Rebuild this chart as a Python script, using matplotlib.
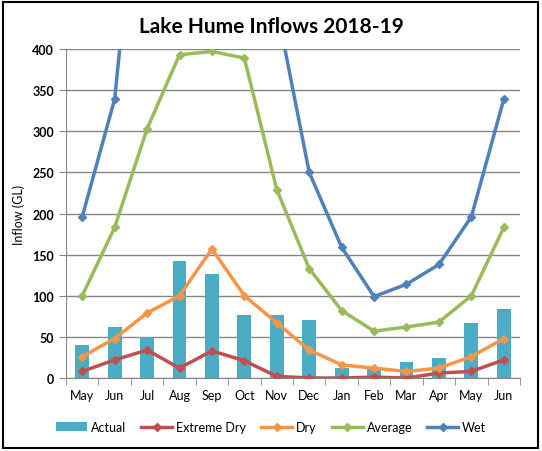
import matplotlib
matplotlib.use("Agg")
import matplotlib.pyplot as plt
import numpy as np

# dados
meses = ['May', 'Jun', 'Jul', 'Aug', 'Sep', 'Oct', 'Nov', 'Dec', 'Jan', 'Feb', 'Mar', 'Apr', 'May', 'Jun']
actual = [40, 62, 50, 142, 127, 77, 77, 71, 12, 12, 20, 24, 67, 84]
extreme_dry = [8, 22, 34, 12, 33, 21, 2, 0, 0, 1, 0, 6, 8, 22]
dry = [26, 48, 79, 100, 157, 100, 67, 34, 16, 12, 8, 12, 26, 48]
average = [100, 183, 303, 393, 397, 389, 229, 133, 82, 57, 62, 68, 100, 183]
wet = [196, 339, 730, 900, 850, 700, 450, 250, 159, 99, 114, 138, 196, 339]

plt.rcParams['font.family'] = ['Lato', 'DejaVu Sans']

fig = plt.figure(figsize=(5.42, 4.52), dpi=100)
ax = fig.add_axes([66/542, 1 - 379/452, 454/542, 329/452])

x = np.arange(len(meses))
handles = []
handles.append(ax.bar(x, actual, width=0.43, color='#4BACC6', label='Actual', zorder=2))

series = [
    (extreme_dry, '#C0504D', 'Extreme Dry'),
    (dry, '#F79646', 'Dry'),
    (average, '#9BBB59', 'Average'),
    (wet, '#4F81BD', 'Wet'),
]
for vals, cor, nome in series:
    linha, = ax.plot(x, vals, color=cor, lw=2.5, marker='D', ms=4.5, label=nome, zorder=3)
    handles.append(linha)

ax.set_xlim(-0.5, len(meses) - 0.5)
ax.set_ylim(0, 400)
ax.set_yticks(range(0, 401, 50))
ax.yaxis.grid(True, color='#868686', lw=1, zorder=0)
ax.set_axisbelow(True)

ax.set_xticks(x)
ax.set_xticklabels(meses, fontsize=9)
ax.set_xticks(np.arange(-0.5, len(meses), 1), minor=True)
ax.tick_params(axis='x', which='major', length=0, pad=8)
ax.tick_params(axis='x', which='minor', length=5, color='#868686')
ax.tick_params(axis='y', length=5, color='#868686', labelsize=9)
for lab in ax.get_yticklabels():
    lab.set_fontweight('bold')

for s in ['top', 'right']:
    ax.spines[s].set_visible(False)
ax.spines['left'].set_color('#868686')
ax.spines['bottom'].set_color('#868686')

ax.set_ylabel('Inflow (GL)', fontsize=9, labelpad=5)
fig.text(0.5, 1 - 27/452, 'Lake Hume Inflows 2018-19', ha='center', va='center',
         fontsize=15, fontweight='bold')

fig.legend(handles=handles, loc='center', bbox_to_anchor=(0.5, 1 - 428/452), ncol=5,
           frameon=False, fontsize=9, handlelength=2.5, columnspacing=1.2, handletextpad=0.3)

# moldura externa
fig.patches.append(plt.Rectangle((3/542, 3/452), 535/542, 446/452, transform=fig.transFigure,
                                 fill=False, edgecolor='black', lw=1.5))

fig.savefig('out.png', dpi=100)
